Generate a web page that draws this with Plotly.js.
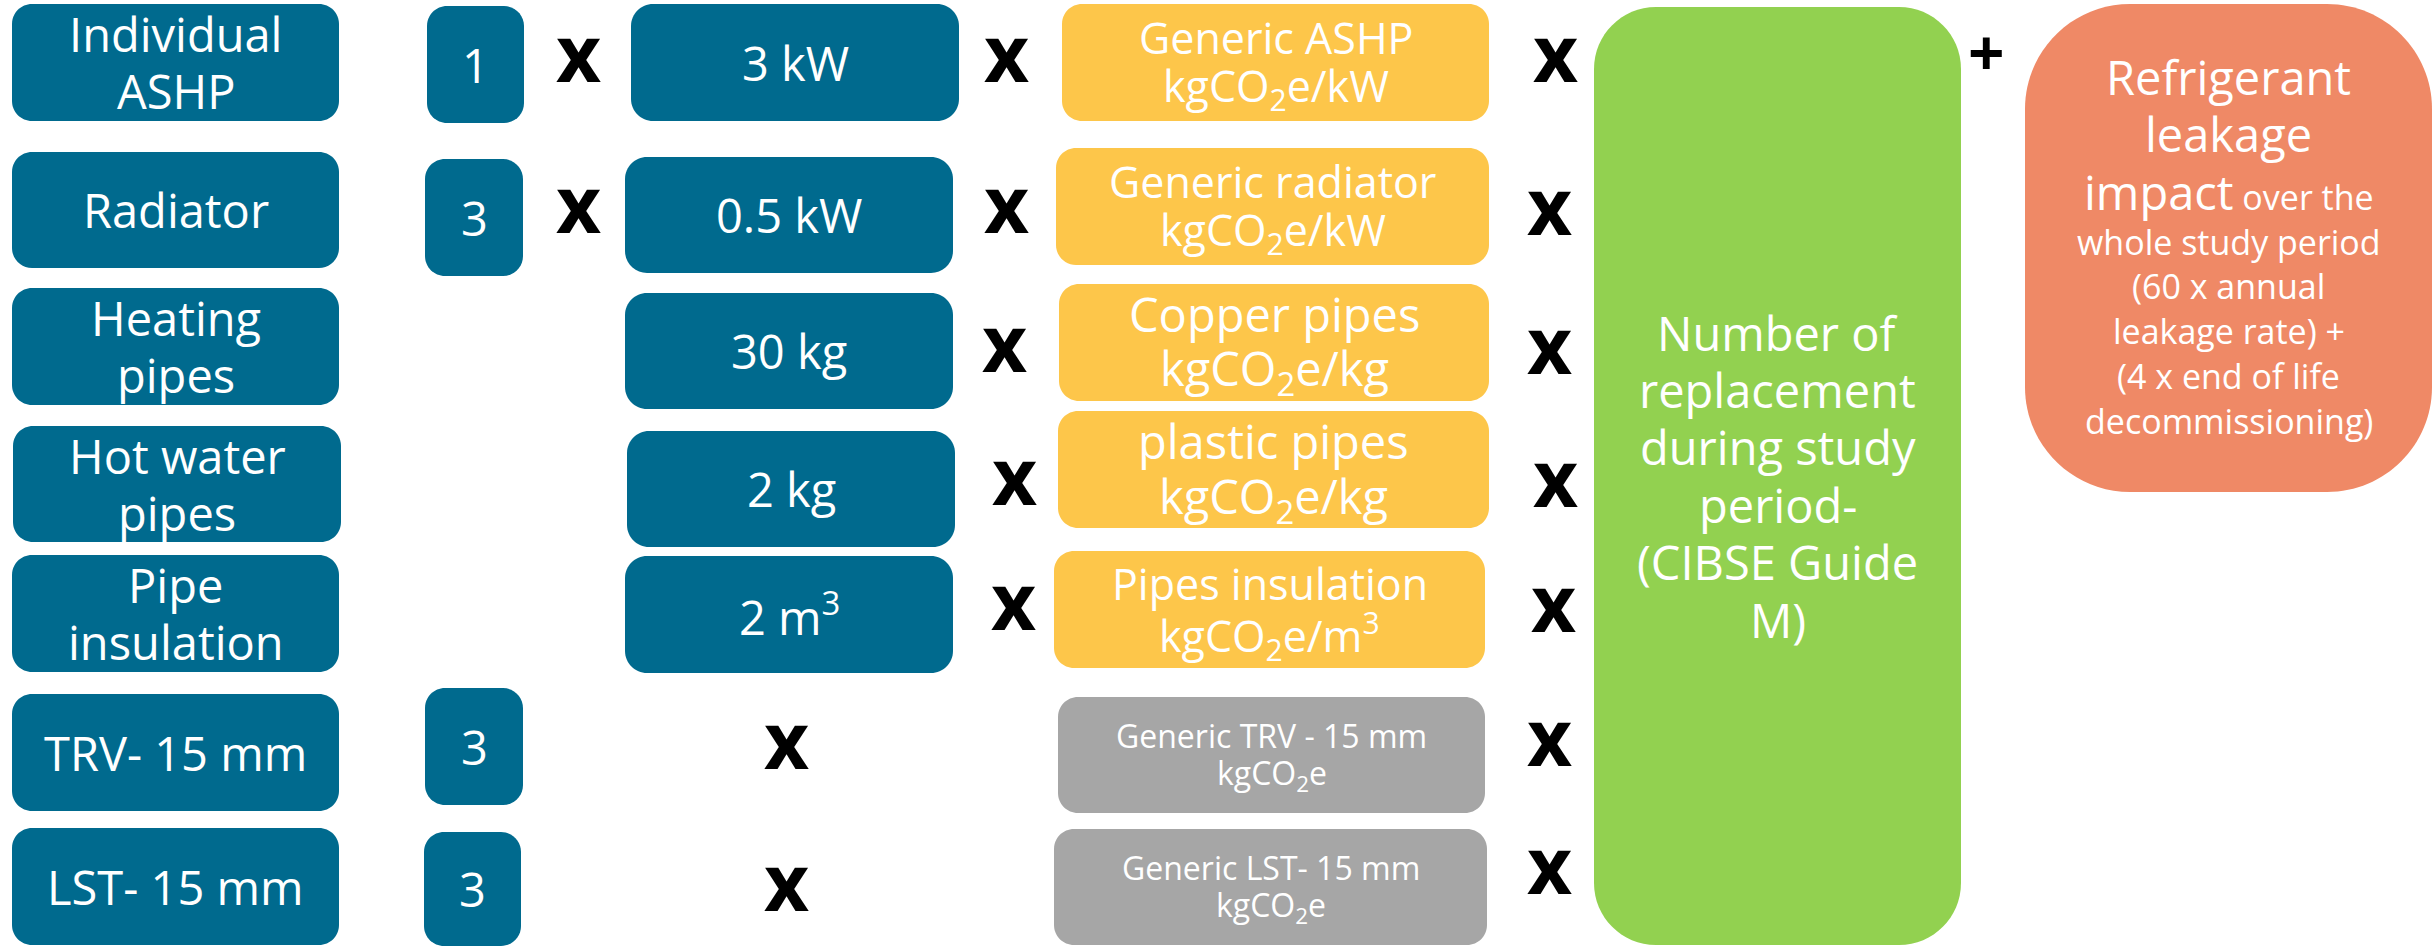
<!DOCTYPE html>
<html><head><meta charset="utf-8">
<script src="https://cdn.plot.ly/plotly-3.0.1.min.js"></script>
<style>html,body{margin:0;padding:0;background:#fff;overflow:hidden}#chart{width:2436px;height:946px}</style>
</head><body><div id="chart"></div>
<script>
// ================= DATA =================
const components = ["Individual<br>ASHP", "Radiator", "Heating<br>pipes", "Hot water<br>pipes", "Pipe<br>insulation", "TRV- 15 mm", "LST- 15 mm"];
const quantities = ["1", "3", "", "", "", "3", "3"];
const amounts = ["3 kW", "0.5 kW", "30 kg", "2 kg", "2 m<sup>3</sup>", "", ""];
const factors = [
  "Generic ASHP<br>kgCO<sub>2</sub>e/kW",
  "Generic radiator<br>kgCO<sub>2</sub>e/kW",
  "Copper pipes<br>kgCO<sub>2</sub>e/kg",
  "plastic pipes<br>kgCO<sub>2</sub>e/kg",
  "Pipes insulation<br>kgCO<sub>2</sub>e/m<sup>3</sup>",
  "Generic TRV - 15 mm<br>kgCO<sub>2</sub>e",
  "Generic LST- 15 mm<br>kgCO<sub>2</sub>e"
];
const factorKind = ["material", "material", "material", "material", "material", "fitting", "fitting"];
const replacementLabel = "Number of<br>replacement<br>during study<br>period-<br>(CIBSE Guide<br>M)";
// each line: [large part, small part]
const leakageLines = [
  ["Refrigerant", ""], ["leakage", ""], ["impact", " over the"],
  ["", "whole study period"], ["", "(60 x annual"], ["", "leakage rate) +"],
  ["", "(4 x end of life"], ["", "decommissioning)"]
];
const multiplySign = "x";
const plusSign = "+";

// ================= LAYOUT / STYLE =================
const W = 2436, H = 946;
const FONT = "Open Sans, Noto Sans, sans-serif";
const COL = { blue: "#006A8E", yellow: "#FDC64A", grey: "#A6A6A6", green: "#92D150", orange: "#EF8966" };

const geomA = { x: [[12,339],[12,339],[12,339],[13,341],[12,339],[12,339],[12,339]],
                y: [[4,121],[152,268],[288,405],[426,542],[555,672],[694,811],[828,945]] };
const geomB = { x: [[427,524],[425,523],null,null,null,[425,523],[424,521]],
                y: [[6,123],[159,276],null,null,null,[688,805],[832,946]] };
const geomC = { x: [[631,959],[625,953],[625,953],[627,955],[625,953],null,null],
                y: [[4,121],[157,273],[293,409],[431,547],[556,673],null,null] };
const geomD = { x: [[1062,1489],[1056,1489],[1059,1489],[1058,1489],[1054,1485],[1058,1485],[1054,1487]],
                y: [[4,121],[148,265],[284,401],[411,528],[551,668],[697,813],[829,945]] };
const factorFont = [43, 43, 47, 47, 43, 32, 32];
const factorLH   = [50, 50, 57, 58, 52, 40, 40];
const x1Pos = [[578,61],[578,212]];
const x2Pos = [[1006,61],[1006,212],[1004,351],[1014,484],[1013,609],[786,748],[786,890]];
const x3Pos = [[1555,61],[1549,214],[1549,353],[1555,486],[1553,611],[1549,745],[1549,873]];
const greenBox = [1594, 7, 1961, 945];
const orangeBox = [2025, 4, 2432, 492];
const plusPos = [1986, 51];

function rr(x0, y0, x1, y1, r) {
  const k = 0.5523 * r;
  return `M${x0+r},${y0} L${x1-r},${y0} C${x1-r+k},${y0} ${x1},${y0+r-k} ${x1},${y0+r} ` +
         `L${x1},${y1-r} C${x1},${y1-r+k} ${x1-r+k},${y1} ${x1-r},${y1} ` +
         `L${x0+r},${y1} C${x0+r-k},${y1} ${x0},${y1-r+k} ${x0},${y1-r} ` +
         `L${x0},${y0+r} C${x0},${y0+r-k} ${x0+r-k},${y0} ${x0+r},${y0} Z`;
}
const shapes = [];
const annotations = [];
function box(x, y, r, color) {
  shapes.push({ type: "path", xref: "x", yref: "y", path: rr(x[0], y[0], x[1], y[1], r),
                fillcolor: color, line: { width: 0 }, layer: "below" });
}
function ann(x, y, text, size, color, weight) {
  annotations.push({ x: x, y: y, xref: "x", yref: "y", text: text, showarrow: false,
    xanchor: "center", yanchor: "middle", borderpad: 0,
    font: { family: FONT, size: size, color: color || "#fff", weight: weight || 400 } });
}
function block(cx, cy, label, size, lh) {
  const lines = label.split("<br>");
  const n = lines.length;
  lines.forEach((t, i) => ann(cx, cy + (i - (n - 1) / 2) * lh, t, size));
}
const mid = a => (a[0] + a[1]) / 2;

components.forEach((c, i) => {
  box(geomA.x[i], geomA.y[i], 20, COL.blue);
  block(mid(geomA.x[i]), mid(geomA.y[i]), c, 47, 57);
  if (quantities[i]) {
    box(geomB.x[i], geomB.y[i], 20, COL.blue);
    block(mid(geomB.x[i]), mid(geomB.y[i]), quantities[i], 47, 57);
  }
  if (amounts[i]) {
    box(geomC.x[i], geomC.y[i], 22, COL.blue);
    block(mid(geomC.x[i]), mid(geomC.y[i]), amounts[i], 47, 57);
  }
  box(geomD.x[i], geomD.y[i], 20, factorKind[i] === "fitting" ? COL.grey : COL.yellow);
  block(mid(geomD.x[i]), mid(geomD.y[i]), factors[i], factorFont[i], factorLH[i]);
});

// multiplication signs
const XS = 78, xOff = -0.116 * XS;
components.forEach((c, i) => {
  if (quantities[i] && amounts[i]) ann(x1Pos[i][0], x1Pos[i][1] + xOff, multiplySign, XS, "#000", 700);
  ann(x2Pos[i][0], x2Pos[i][1] + xOff, multiplySign, XS, "#000", 700);
  ann(x3Pos[i][0], x3Pos[i][1] + xOff, multiplySign, XS, "#000", 700);
});

// replacement box
box([greenBox[0], greenBox[2]], [greenBox[1], greenBox[3]], 62, COL.green);
block((greenBox[0] + greenBox[2]) / 2, (greenBox[1] + greenBox[3]) / 2, replacementLabel, 47, 57.4);

// plus
ann(plusPos[0], plusPos[1], plusSign, 64, "#000", 700);

// refrigerant box
box([orangeBox[0], orangeBox[2]], [orangeBox[1], orangeBox[3]], 105, COL.orange);
(function () {
  const big = 47, small = 34;
  const sizes = leakageLines.map(l => l[0] ? big : small);
  const gaps = sizes.map(s => s === big ? 1.22 * big : 1.32 * small);
  let total = 0.714 * sizes[0];
  for (let i = 1; i < sizes.length; i++) total += gaps[i];
  const cy = (orangeBox[1] + orangeBox[3]) / 2;
  let b = cy - total / 2 + 0.714 * sizes[0];
  const cx = (orangeBox[0] + orangeBox[2]) / 2;
  leakageLines.forEach((l, i) => {
    if (i > 0) b += gaps[i];
    const s = sizes[i];
    let txt = l[0];
    if (l[1]) txt += l[0] ? `<span style="font-size:${small}px">${l[1]}</span>` : l[1];
    ann(cx, b - 0.388 * s, txt, s);
  });
})();

const layout = {
  width: W, height: H, margin: { l: 0, r: 0, t: 0, b: 0 },
  paper_bgcolor: "#fff", plot_bgcolor: "#fff", showlegend: false,
  xaxis: { range: [0, W], visible: false, fixedrange: true },
  yaxis: { range: [H, 0], visible: false, fixedrange: true },
  shapes: shapes, annotations: annotations
};
Plotly.newPlot("chart", [{ type: "scatter", x: [], y: [], hoverinfo: "skip" }], layout,
  { staticPlot: true, displayModeBar: false });
</script></body></html>
